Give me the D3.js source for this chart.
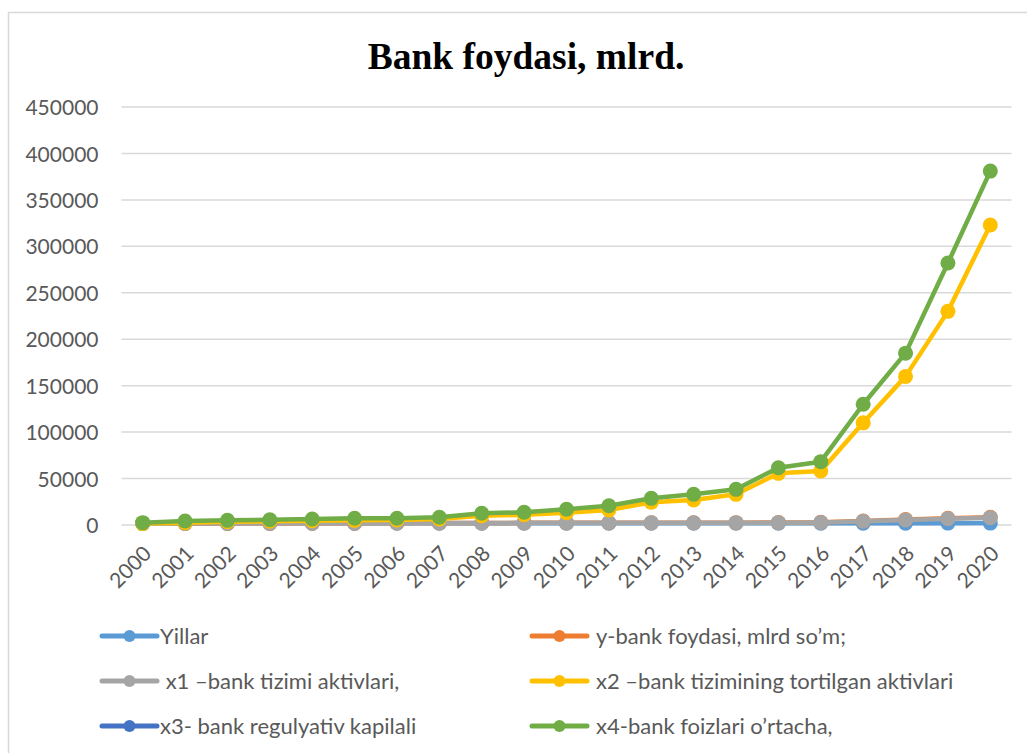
<!DOCTYPE html>
<html>
<head>
<meta charset="utf-8">
<script src="https://cdn.jsdelivr.net/npm/d3@7"></script>
<style>
  body { margin: 0; background: #fff; }
  svg { display: block; }
  .tick-label { font-family: Lato, "Open Sans", sans-serif; fill: #595959; }
</style>
</head>
<body>
<svg id="chart" width="1027" height="753"></svg>
<script>
// chart data
const years = ['2000', '2001', '2002', '2003', '2004', '2005', '2006', '2007', '2008', '2009', '2010',
  '2011', '2012', '2013', '2014', '2015', '2016', '2017', '2018', '2019', '2020'];
const yillar = [2000, 2001, 2002, 2003, 2004, 2005, 2006, 2007, 2008, 2009, 2010,
  2011, 2012, 2013, 2014, 2015, 2016, 2017, 2018, 2019, 2020];
const yFoyda = [1500, 1600, 1700, 1800, 1900, 2000, 2100, 2200, 2200, 2300, 2300,
  2400, 2400, 2400, 2500, 2600, 2900, 4300, 5800, 7200, 8300];
const x1Aktiv = [1500, 1600, 1700, 1800, 1900, 2000, 2100, 2200, 2200, 2300, 2300,
  2400, 2400, 2400, 2500, 2500, 2800, 4000, 5400, 6800, 7900];
const x2Tortilgan = [1500, 2500, 3500, 4000, 4500, 5000, 5500, 6500, 10000, 11000, 13200,
  16100, 24400, 26900, 33000, 55600, 58100, 110000, 160000, 230000, 323000];
const x3Kapital = [];
const x4Foiz = [2500, 4300, 5000, 5700, 6500, 7200, 7200, 8300, 12600, 13700, 16900,
  20800, 28700, 33000, 38400, 61700, 68200, 130000, 185000, 282000, 381000];
const yTicks = [0, 50000, 100000, 150000, 200000, 250000, 300000, 350000, 400000, 450000];

const seriesNames = ['Yillar', 'y-bank foydasi, mlrd so\u2019m;', ' x1 \u2013bank tizimi aktivlari,',
  'x2 \u2013bank tizimining tortilgan aktivlari', 'x3- bank regulyativ kapilali', 'x4-bank foizlari o\u2019rtacha,'];
const seriesValues = [yillar, yFoyda, x1Aktiv, x2Tortilgan, x3Kapital, x4Foiz];
const colors = ['#5b9bd5', '#ed7d31', '#a5a5a5', '#ffc000', '#4472c4', '#70ad47'];

const svg = d3.select('#chart');
const plot = { left: 121.5, right: 1011.5, top: 107, bottom: 525 };

// chart frame
svg.append('rect')
  .attr('x', 8.5).attr('y', 12.5)
  .attr('width', 1030).attr('height', 760)
  .attr('fill', 'none')
  .attr('stroke', '#d9d9d9')
  .attr('stroke-width', 1.5);

svg.append('text')
  .attr('x', 526).attr('y', 69)
  .attr('text-anchor', 'middle')
  .attr('font-family', '"Liberation Serif", "Times New Roman", serif')
  .attr('font-weight', 'bold')
  .attr('font-size', 37.5)
  .attr('fill', '#000')
  .text('Bank foydasi, mlrd.');

let x = d3.scaleBand().domain(years).range([plot.left, plot.right]);
let y = d3.scaleLinear().domain([0, 450000]).range([plot.bottom, plot.top]);

// gridlines
svg.append('g')
  .selectAll('line')
  .data(yTicks)
  .enter()
  .append('line')
  .attr('x1', plot.left).attr('x2', plot.right)
  .attr('y1', d => y(d)).attr('y2', d => y(d))
  .attr('stroke', '#d9d9d9')
  .attr('stroke-width', 1.5);

// y axis labels
let yAxis = svg.append('g')
  .attr('transform', 'translate(' + (plot.left - 23) + ',0)')
  .call(d3.axisLeft(y).tickValues(yTicks).tickSize(0).tickPadding(0).tickFormat(d3.format('d')));
yAxis.select('.domain').remove();
yAxis.selectAll('text')
  .attr('class', 'tick-label')
  .attr('font-size', 21)
  .attr('dy', '0.36em');

// x axis labels, rotated
let xAxis = svg.append('g')
  .attr('transform', 'translate(0,' + plot.bottom + ')')
  .call(d3.axisBottom(x).tickSize(0).tickPadding(0));
xAxis.select('.domain').remove();
xAxis.selectAll('text')
  .attr('class', 'tick-label')
  .attr('font-size', 21)
  .attr('text-anchor', 'end')
  .attr('dy', null)
  .attr('transform', 'translate(10,30) rotate(-45)');

// lines and markers
let line = d3.line()
  .x((d, i) => x(years[i]) + x.bandwidth() / 2)
  .y(d => y(d));

seriesValues.forEach((vals, s) => {
  if (!vals.length) return;
  let g = svg.append('g');
  g.append('path')
    .attr('d', line(vals))
    .attr('fill', 'none')
    .attr('stroke', colors[s])
    .attr('stroke-width', 4.5)
    .attr('stroke-linejoin', 'round');
  g.selectAll('circle')
    .data(vals)
    .enter()
    .append('circle')
    .attr('cx', (d, i) => x(years[i]) + x.bandwidth() / 2)
    .attr('cy', d => y(d))
    .attr('r', 7.5)
    .attr('fill', colors[s]);
});

// legend, two columns, three rows
let legendX = [102, 532];
let legendY = [636, 681, 726];
let legend = svg.append('g')
  .selectAll('g')
  .data(seriesNames)
  .enter()
  .append('g')
  .attr('transform', (d, i) => 'translate(' + legendX[i % 2] + ',' + legendY[Math.floor(i / 2)] + ')');

legend.append('line')
  .attr('x1', 0).attr('x2', 55)
  .attr('stroke', (d, i) => colors[i])
  .attr('stroke-width', 5)
  .attr('stroke-linecap', 'round');
legend.append('circle')
  .attr('cx', 27.5)
  .attr('r', 6)
  .attr('fill', (d, i) => colors[i]);
legend.append('text')
  .attr('x', (d, i) => i % 2 ? 64 : 58)
  .attr('dy', '0.36em')
  .attr('class', 'tick-label')
  .attr('font-size', 22)
  .attr('xml:space', 'preserve')
  .style('white-space', 'pre')
  .text(d => d);
</script>
</body>
</html>
